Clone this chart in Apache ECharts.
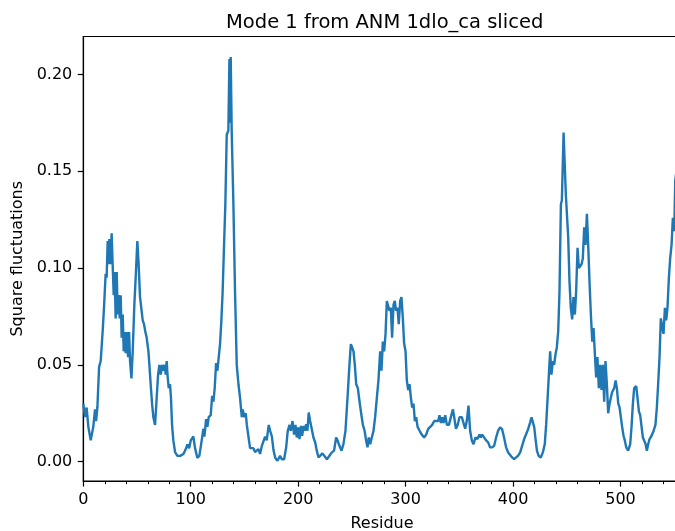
<!DOCTYPE html>
<html><head><meta charset="utf-8">
<script src="https://cdn.jsdelivr.net/npm/echarts@6/dist/echarts.min.js"></script>
<style>html,body{margin:0;padding:0;background:#fff}#c{width:675px;height:531px}</style>
</head><body><div id="c"></div>
<script>
const residues = [
0, 1.6, 3.1, 4.7, 6.9, 9.3, 10.9, 11.9, 13.1, 14.7,
16.2, 18.1, 19.3, 20.8, 21.7, 22.7, 23.6, 24.2, 25.1, 26.4,
27.3, 28.3, 29.2, 30.1, 31.1, 32.0, 32.9, 33.9, 34.8, 35.7,
36.7, 37.6, 38.5, 39.5, 40.4, 41.7, 42.6, 43.5, 44.8, 46.0,
47.5, 49.0, 50.3, 51.5, 52.8, 54.0, 55.3, 56.5, 57.8, 59.0,
60.6, 61.5, 62.7, 64.0, 65.2, 66.8, 68.3, 69.6, 70.8, 72.1,
73.3, 74.5, 75.7, 76.7, 77.6, 78.5, 79.5, 80.7, 81.6, 82.6,
83.8, 85.4, 87.6, 90.1, 93.2, 95.7, 96.9, 98.5, 100.0, 102.4,
104.0, 106.1, 108.0, 110.2, 111.8, 112.7, 114.3, 115.5, 116.7, 118.6,
119.9, 121.1, 122.3, 123.6, 124.8, 126.0, 127.3, 128.5, 129.7, 131.0,
132.2, 133.5, 135.0, 136.0, 136.6, 137.2, 138.1, 139.7, 141.2, 142.8,
144.4, 145.9, 147.5, 148.4, 149.7, 151.2, 152.2, 153.7, 155.2, 156.7,
158.3, 159.8, 161.4, 163.0, 164.5, 166.1, 167.6, 169.2, 170.7, 172.6,
173.9, 175.5, 177.0, 178.6, 180.7, 183.1, 184.7, 186.9, 188.8, 190.3,
191.9, 193.1, 194.7, 196.2, 197.5, 198.7, 200.0, 201.2, 202.5, 203.7,
205.0, 206.2, 207.4, 208.6, 209.8, 211.1, 212.6, 214.2, 215.8, 217.3,
218.9, 220.4, 222.6, 224.2, 226.7, 229.1, 231.3, 233.4, 235.3, 236.8,
238.4, 240.3, 242.1, 244.0, 245.9, 247.7, 249.0, 250.2, 251.5, 252.7,
254.0, 255.5, 257.1, 258.6, 260.2, 261.8, 263.2, 264.5, 265.7, 267.0,
268.5, 270.1, 271.6, 273.2, 274.7, 276.3, 277.5, 278.8, 280.0, 281.3,
282.5, 283.7, 284.9, 286.2, 287.4, 288.7, 289.9, 291.1, 292.4, 293.6,
294.9, 296.1, 297.4, 298.6, 299.9, 301.1, 302.4, 303.6, 304.9, 306.1,
307.3, 308.6, 309.8, 311.1, 313.0, 315.0, 317.2, 319.1, 321.0, 322.8,
324.7, 326.6, 328.4, 330.3, 331.5, 332.8, 334.0, 335.3, 336.8, 338.4,
340.3, 342.1, 344.0, 345.2, 346.8, 348.4, 350.1, 352.3, 353.8, 355.4,
356.9, 358.5, 360.0, 361.6, 363.2, 364.9, 366.8, 368.7, 369.9, 371.2,
373.0, 374.9, 376.8, 378.6, 380.5, 382.4, 384.2, 386.1, 387.9, 389.8,
391.6, 393.5, 395.4, 397.2, 399.1, 401.0, 402.8, 404.7, 406.6, 408.4,
410.3, 412.2, 414.0, 415.9, 417.2, 418.4, 419.7, 420.9, 422.2, 423.7,
425.8, 427.7, 429.5, 430.8, 432.0, 433.3, 434.5, 435.7, 437.0, 438.2,
439.5, 440.7, 442.0, 443.2, 444.5, 445.4, 447.0, 448.2, 449.1, 450.0,
451.3, 452.5, 453.7, 455.0, 456.2, 457.5, 458.7, 460.0, 461.2, 462.4,
463.7, 464.9, 466.2, 467.4, 468.7, 469.9, 471.2, 472.4, 473.7, 474.9,
476.0, 477.3, 478.5, 479.8, 481.0, 482.3, 483.5, 484.8, 486.0, 487.3,
488.5, 489.8, 491.0, 492.2, 494.1, 495.4, 496.6, 497.9, 499.1, 500.3,
501.5, 502.8, 504.0, 505.3, 507.1, 509.0, 510.2, 511.5, 512.7, 514.6,
515.8, 517.1, 518.3, 519.6, 520.8, 522.0, 523.3, 524.5, 525.8, 527.0,
528.9, 530.8, 532.5, 533.8, 535.0, 536.3, 537.5, 538.8, 540.0, 541.3,
542.5, 543.7, 545.0, 546.2, 547.5, 548.7, 550.0, 550.9, 552.0
];
const fluctuations = [
0.030, 0.023, 0.028, 0.018, 0.011, 0.018, 0.027, 0.021, 0.028, 0.049,
0.052, 0.068, 0.080, 0.097, 0.095, 0.114, 0.102, 0.115, 0.102, 0.118,
0.102, 0.086, 0.098, 0.074, 0.098, 0.076, 0.086, 0.074, 0.086, 0.064,
0.076, 0.057, 0.067, 0.056, 0.067, 0.054, 0.067, 0.052, 0.043, 0.057,
0.081, 0.098, 0.114, 0.102, 0.085, 0.086, 0.073, 0.071, 0.067, 0.064,
0.057, 0.050, 0.040, 0.030, 0.023, 0.019, 0.033, 0.045, 0.050, 0.045,
0.050, 0.047, 0.050, 0.045, 0.052, 0.044, 0.038, 0.040, 0.033, 0.019,
0.011, 0.005, 0.003, 0.003, 0.004, 0.007, 0.009, 0.007, 0.011, 0.013,
0.007, 0.002, 0.003, 0.011, 0.017, 0.013, 0.022, 0.018, 0.023, 0.024,
0.034, 0.031, 0.038, 0.051, 0.047, 0.046, 0.061, 0.073, 0.088, 0.112,
0.133, 0.169, 0.171, 0.208, 0.175, 0.209, 0.171, 0.133, 0.088, 0.050,
0.040, 0.033, 0.023, 0.027, 0.023, 0.025, 0.019, 0.013, 0.007, 0.006,
0.007, 0.005, 0.004, 0.0065, 0.004, 0.008, 0.009, 0.013, 0.011, 0.019,
0.016, 0.013, 0.006, 0.002, 0.0005, 0.003, 0.0013, 0.0013, 0.0074, 0.016,
0.019, 0.016, 0.021, 0.014, 0.019, 0.0125, 0.0177, 0.0117, 0.0185, 0.0134,
0.0185, 0.016, 0.0194, 0.016, 0.0254, 0.021, 0.022, 0.0125, 0.010, 0.0057,
0.0022, 0.0031, 0.0043, 0.0036, 0.0013, 0.0031, 0.0048, 0.0057, 0.0125, 0.0108,
0.0082, 0.0057, 0.0091, 0.016, 0.033, 0.050, 0.0607, 0.059, 0.057, 0.050,
0.040, 0.038, 0.031, 0.025, 0.019, 0.016, 0.011, 0.0074, 0.0125, 0.009,
0.0125, 0.016, 0.023, 0.033, 0.042, 0.057, 0.047, 0.062, 0.057, 0.066,
0.083, 0.084, 0.078, 0.0795, 0.064, 0.081, 0.083, 0.078, 0.0795, 0.071,
0.083, 0.085, 0.074, 0.061, 0.057, 0.042, 0.037, 0.040, 0.033, 0.028,
0.030, 0.021, 0.023, 0.018, 0.016, 0.014, 0.0125, 0.014, 0.017, 0.018,
0.019, 0.021, 0.022, 0.021, 0.024, 0.020, 0.023, 0.020, 0.024, 0.019,
0.019, 0.023, 0.027, 0.023, 0.017, 0.019, 0.023, 0.023, 0.022, 0.017,
0.021, 0.029, 0.016, 0.011, 0.009, 0.0125, 0.0117, 0.014, 0.0125, 0.014,
0.013, 0.011, 0.010, 0.0074, 0.0074, 0.0082, 0.0125, 0.016, 0.0177, 0.0168,
0.0125, 0.0074, 0.0048, 0.004, 0.0022, 0.0013, 0.0022, 0.0031, 0.0048, 0.0082,
0.0117, 0.0143, 0.0168, 0.0203, 0.0229, 0.022, 0.0177, 0.0117, 0.0057, 0.0031,
0.0022, 0.0048, 0.0091, 0.0194, 0.0314, 0.045, 0.057, 0.045, 0.052, 0.050,
0.0555, 0.059, 0.0675, 0.088, 0.133, 0.135, 0.170, 0.170, 0.138, 0.137,
0.116, 0.093, 0.0795, 0.0735, 0.085, 0.076, 0.088, 0.1105, 0.100, 0.099,
0.102, 0.105, 0.121, 0.112, 0.128, 0.112, 0.092, 0.076, 0.062, 0.069,
0.057, 0.0435, 0.054, 0.038, 0.050, 0.037, 0.050, 0.031, 0.052, 0.040,
0.025, 0.030, 0.033, 0.036, 0.038, 0.042, 0.038, 0.030, 0.028, 0.023,
0.018, 0.0134, 0.011, 0.0074, 0.0057, 0.0091, 0.0177, 0.030, 0.038, 0.039,
0.033, 0.026, 0.024, 0.018, 0.0125, 0.0134, 0.0091, 0.0057, 0.0091, 0.0117,
0.0134, 0.016, 0.019, 0.028, 0.040, 0.054, 0.074, 0.073, 0.066, 0.0795,
0.073, 0.0795, 0.095, 0.105, 0.112, 0.126, 0.119, 0.145, 0.150
];
const yTicks = [0, 0.05, 0.10, 0.15, 0.20];
const titleText = 'Mode 1 from ANM 1dlo_ca sliced';
const xName = 'Residue';
const yName = 'Square fluctuations';

const FONT = 'DejaVu Sans';
const chart = echarts.init(document.getElementById('c'), null, {renderer: 'canvas'});
const tickStyle = {color: '#000', width: 1.2};
chart.setOption({
  animation: false,
  backgroundColor: '#fff',
  title: {
    text: titleText, left: 221, top: 8,
    textStyle: {fontFamily: FONT, fontSize: 19.5, fontWeight: 'normal', color: '#000'}
  },
  grid: {
    left: 83.3, top: 36.5, right: -5.7, bottom: 50,
    containLabel: false, outerBoundsMode: 'none',
    show: true, borderColor: '#000', borderWidth: 1.2, backgroundColor: 'transparent'
  },
  xAxis: {
    type: 'value', min: 0, max: 556, interval: 100,
    name: xName, nameLocation: 'middle', nameGap: 35,
    nameTextStyle: {fontFamily: FONT, fontSize: 16, color: '#000'},
    axisLine: {show: true, onZero: false, lineStyle: tickStyle},
    axisTick: {show: true, length: 5.6, lineStyle: tickStyle},
    minorTick: {show: true, splitNumber: 5, length: 3.2, lineStyle: {color: '#000', width: 1}},
    axisLabel: {margin: 10.5, fontFamily: FONT, fontSize: 16, color: '#000', showMaxLabel: false},
    splitLine: {show: false}, minorSplitLine: {show: false}
  },
  yAxis: {
    type: 'value', min: -0.00997, max: 0.2196,
    name: yName, nameLocation: 'middle', nameGap: 56,
    nameTextStyle: {fontFamily: FONT, fontSize: 16, color: '#000'},
    axisLine: {show: true, onZero: false, lineStyle: tickStyle},
    axisTick: {show: true, length: 5.6, lineStyle: tickStyle, customValues: yTicks},
    axisLabel: {margin: 11, fontFamily: FONT, fontSize: 16, color: '#000', customValues: yTicks,
      formatter: function (v) { return Number(v).toFixed(2); }},
    splitLine: {show: false}
  },
  series: [{
    type: 'line',
    data: residues.map(function (r, i) { return [r, fluctuations[i]]; }),
    showSymbol: false, symbol: 'none', clip: true,
    lineStyle: {color: '#1f77b4', width: 2.4}
  }]
});
</script></body></html>
